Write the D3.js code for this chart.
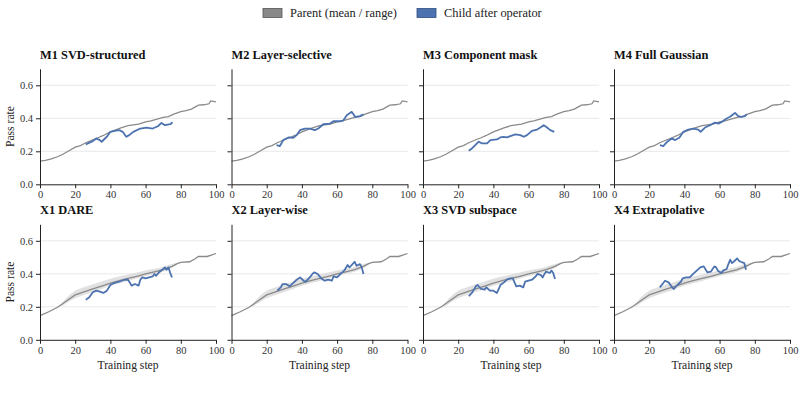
<!DOCTYPE html>
<html>
<head>
<meta charset="utf-8">
<script src="https://cdn.jsdelivr.net/npm/d3@7"></script>
</head>
<body style="margin:0; background:#fff">
<svg width="803" height="395"></svg>
<script>
// Panel titles, in row order.
var titles = ["M1 SVD-structured", "M2 Layer-selective", "M3 Component mask", "M4 Full Gaussian",
              "X1 DARE", "X2 Layer-wise", "X3 SVD subspace", "X4 Extrapolative"];

// Parent curve for the M row (mean only).
var parentMSteps = [0, 3, 6, 10, 13, 16, 20, 23, 26, 30, 33, 36, 40, 43, 46, 50, 53, 56, 60, 63, 66, 70, 73, 76, 80, 83, 86, 88, 90, 93, 96, 97, 100];
var parentMVals  = [0.14, 0.145, 0.152, 0.167, 0.182, 0.2, 0.225, 0.235, 0.252, 0.27, 0.282, 0.296, 0.318, 0.33, 0.342, 0.355, 0.36, 0.365, 0.378, 0.385, 0.393, 0.405, 0.41, 0.425, 0.44, 0.447, 0.456, 0.468, 0.48, 0.482, 0.488, 0.505, 0.5];

// Parent curve for the X row (mean + range band).
var parentXSteps = [0, 5, 10, 15, 20, 25, 30, 35, 40, 45, 50, 55, 60, 65, 70, 75, 78, 80, 85, 88, 90, 95, 100];
var parentXVals  = [0.147, 0.17, 0.197, 0.235, 0.272, 0.29, 0.308, 0.325, 0.344, 0.358, 0.372, 0.385, 0.399, 0.412, 0.425, 0.445, 0.462, 0.469, 0.473, 0.49, 0.505, 0.505, 0.523];
var bandSteps = [12, 15, 20, 25, 30, 35, 40, 45, 50, 55, 60, 65, 70, 75, 78];
var bandLow   = [0.2, 0.222, 0.252, 0.272, 0.29, 0.308, 0.327, 0.342, 0.357, 0.371, 0.386, 0.4, 0.413, 0.436, 0.458];
var bandHigh  = [0.215, 0.255, 0.298, 0.318, 0.336, 0.353, 0.37, 0.383, 0.396, 0.408, 0.42, 0.43, 0.443, 0.46, 0.467];

// Child curves, one per panel.
var childSteps = [
  [26, 30, 32, 34, 35, 38, 40, 42.5, 45, 47, 49, 50.7, 53, 57, 60.5, 64, 67, 69, 71, 74, 75.3],
  [25.6, 27.5, 29.4, 32.3, 35.1, 37, 38.9, 41.7, 44.6, 47.4, 49.3, 52.2, 56, 57.9, 61.7, 63.6, 65.5, 68.3, 69.3, 70.2, 73, 75],
  [26, 27.8, 29.7, 31.6, 33.5, 36.4, 38.3, 42, 43.9, 45.8, 47.7, 49.6, 52.5, 55.3, 57.2, 59.1, 61.9, 64.8, 66.7, 68.6, 70.5, 72.3, 74.6],
  [26.1, 28, 30.3, 32.8, 34.7, 37.1, 39.4, 42.2, 45.1, 47.9, 49.2, 51.7, 54.5, 57.4, 59.3, 61.2, 64, 65.9, 67.8, 68.8, 70.6, 72.5, 74.4, 75.4],
  [26, 28, 30, 32, 34, 36, 38, 40, 42, 45, 48, 50, 51, 52, 54, 56, 57, 58, 60, 62, 64, 65, 66, 68, 70, 71, 72, 73, 74, 75],
  [26, 28, 29, 31, 33, 35, 37, 39, 41, 42, 44, 46, 47, 49, 51, 53, 55, 57, 58, 60, 62, 64, 66, 67, 68, 70, 71, 73, 74, 75],
  [26, 28, 30, 31, 33, 35, 36, 38, 40, 42, 44, 46, 48, 50, 51, 53, 55, 57, 58, 60, 62, 64, 65, 67, 68, 69, 70, 72, 73, 74, 75],
  [26, 28, 29, 31, 33, 34, 36, 38, 39, 41, 43, 45, 47, 49, 51, 53, 55, 57, 58, 59, 61, 62, 64, 65, 66, 67, 68, 70, 71, 72, 74, 75]
];
var childVals = [
  [0.242, 0.262, 0.278, 0.268, 0.258, 0.288, 0.318, 0.324, 0.328, 0.318, 0.288, 0.298, 0.318, 0.338, 0.344, 0.338, 0.352, 0.372, 0.358, 0.364, 0.376],
  [0.238, 0.232, 0.268, 0.284, 0.282, 0.298, 0.328, 0.338, 0.338, 0.328, 0.338, 0.364, 0.368, 0.382, 0.382, 0.388, 0.419, 0.439, 0.425, 0.409, 0.413, 0.425],
  [0.203, 0.217, 0.238, 0.258, 0.248, 0.248, 0.268, 0.272, 0.284, 0.288, 0.284, 0.292, 0.302, 0.298, 0.288, 0.298, 0.324, 0.332, 0.344, 0.358, 0.344, 0.328, 0.318],
  [0.238, 0.232, 0.258, 0.278, 0.268, 0.282, 0.318, 0.332, 0.338, 0.332, 0.318, 0.344, 0.358, 0.374, 0.368, 0.378, 0.399, 0.409, 0.425, 0.433, 0.413, 0.409, 0.413, 0.425],
  [0.242, 0.258, 0.288, 0.298, 0.292, 0.284, 0.298, 0.332, 0.344, 0.352, 0.364, 0.364, 0.348, 0.328, 0.338, 0.328, 0.364, 0.378, 0.372, 0.378, 0.384, 0.399, 0.388, 0.413, 0.429, 0.439, 0.425, 0.439, 0.405, 0.378],
  [0.298, 0.318, 0.338, 0.338, 0.324, 0.344, 0.364, 0.378, 0.358, 0.352, 0.372, 0.399, 0.409, 0.399, 0.372, 0.358, 0.364, 0.358, 0.384, 0.378, 0.399, 0.419, 0.453, 0.439, 0.449, 0.473, 0.449, 0.459, 0.439, 0.399],
  [0.264, 0.288, 0.324, 0.332, 0.308, 0.304, 0.318, 0.298, 0.298, 0.284, 0.332, 0.348, 0.368, 0.372, 0.372, 0.324, 0.328, 0.318, 0.352, 0.358, 0.364, 0.384, 0.399, 0.392, 0.378, 0.399, 0.413, 0.405, 0.419, 0.405, 0.368],
  [0.318, 0.344, 0.358, 0.348, 0.318, 0.308, 0.332, 0.352, 0.372, 0.378, 0.378, 0.399, 0.419, 0.439, 0.445, 0.409, 0.413, 0.445, 0.439, 0.419, 0.405, 0.419, 0.429, 0.459, 0.485, 0.465, 0.473, 0.493, 0.479, 0.473, 0.465, 0.425]
];

var xTicks = [0, 20, 40, 60, 80, 100];
var yTicks = [0, 0.2, 0.4, 0.6];

var parentColor = "#8a8a8a",
    childColor = "#4c72b0",
    serif = "Liberation Serif";

var svg = d3.select("svg");

// Panel geometry.
var colX = [40, 231.5, 423, 614],
    rowTop = [68.8, 224.3],
    panelW = 176,
    panelH = 115.5;

var x = d3.scaleLinear().domain([0, 100]).range([0, panelW]);
var y = d3.scaleLinear().domain([0, 0.7]).range([panelH, 0]);

var line = d3.line()
    .x(function (d) { return x(d[0]); })
    .y(function (d) { return y(d[1]); });

var area = d3.area()
    .x(function (d) { return x(d[0]); })
    .y0(function (d) { return y(d[1]); })
    .y1(function (d) { return y(d[2]); })
    .curve(d3.curveMonotoneX);

function zip(a, b) {
    return a.map(function (v, i) { return [v, b[i]]; });
}

function styleAxis(sel) {
    sel.selectAll(".domain").attr("stroke", "#222");
    sel.selectAll(".tick line").attr("stroke", "#222");
    sel.selectAll(".tick text")
        .style("font-family", serif)
        .style("font-size", "10.5px")
        .attr("fill", "#333");
}

titles.forEach(function (title, i) {
    var row = Math.floor(i / 4), col = i % 4;
    var g = svg.append("g")
        .attr("transform", "translate(" + colX[col] + "," + rowTop[row] + ")");

    // grid
    g.selectAll(".grid")
        .data(yTicks.filter(function (t) { return t > 0; }))
        .enter().append("line")
        .attr("x1", 0).attr("x2", panelW)
        .attr("y1", function (d) { return y(d); })
        .attr("y2", function (d) { return y(d); })
        .attr("stroke", "#e3e3e3")
        .attr("stroke-width", 0.8);

    // range band for X row
    if (row === 1) {
        var band = bandSteps.map(function (s, k) { return [s, bandLow[k], bandHigh[k]]; });
        g.append("path")
            .attr("d", area(band))
            .attr("fill", "#d4d4d4")
            .attr("opacity", 0.7);
    }

    var parent = row === 0 ? zip(parentMSteps, parentMVals) : zip(parentXSteps, parentXVals);
    g.append("path")
        .attr("d", line(parent))
        .attr("fill", "none")
        .attr("stroke", parentColor)
        .attr("stroke-width", 1.3);

    g.append("path")
        .attr("d", line(zip(childSteps[i], childVals[i])))
        .attr("fill", "none")
        .attr("stroke", childColor)
        .attr("stroke-width", 1.8)
        .attr("stroke-linejoin", "round");

    // axes
    g.append("g")
        .attr("transform", "translate(0," + panelH + ")")
        .call(d3.axisBottom(x).tickValues(xTicks).tickSize(4).tickPadding(2.5).tickSizeOuter(0))
        .call(styleAxis);

    var yAxis = d3.axisLeft(y).tickValues(yTicks).tickSize(4).tickPadding(3).tickSizeOuter(0);
    if (col === 0) yAxis.tickFormat(d3.format(".1f"));
    else yAxis.tickFormat("");
    g.append("g").call(yAxis).call(styleAxis);

    g.append("text")
        .attr("x", 0)
        .attr("y", -10)
        .style("font-family", serif)
        .style("font-weight", "bold")
        .style("font-size", "12.4px")
        .attr("fill", "#111")
        .text(title);

    if (col === 0) {
        g.append("text")
            .attr("transform", "translate(-26," + panelH / 2 + ") rotate(-90)")
            .attr("text-anchor", "middle")
            .style("font-family", serif)
            .style("font-size", "11.6px")
            .attr("fill", "#222")
            .text("Pass rate");
    }
    if (row === 1) {
        g.append("text")
            .attr("x", panelW / 2)
            .attr("y", panelH + 29.5)
            .attr("text-anchor", "middle")
            .style("font-family", serif)
            .style("font-size", "11.6px")
            .attr("fill", "#222")
            .text("Training step");
    }
});

// Legend
var legendItems = [
    { label: "Parent (mean / range)", fill: "#888888", stroke: "#555", x: 263 },
    { label: "Child after operator", fill: "#4c72b0", stroke: "#2f4f80", x: 417 }
];
var legend = svg.append("g");
legendItems.forEach(function (d) {
    legend.append("rect")
        .attr("x", d.x).attr("y", 8.5)
        .attr("width", 19).attr("height", 9)
        .attr("fill", d.fill)
        .attr("stroke", d.stroke)
        .attr("stroke-width", 0.8);
    legend.append("text")
        .attr("x", d.x + 27).attr("y", 17)
        .style("font-family", serif)
        .style("font-size", "12.4px")
        .attr("fill", "#222")
        .text(d.label);
});
</script>
</body>
</html>
